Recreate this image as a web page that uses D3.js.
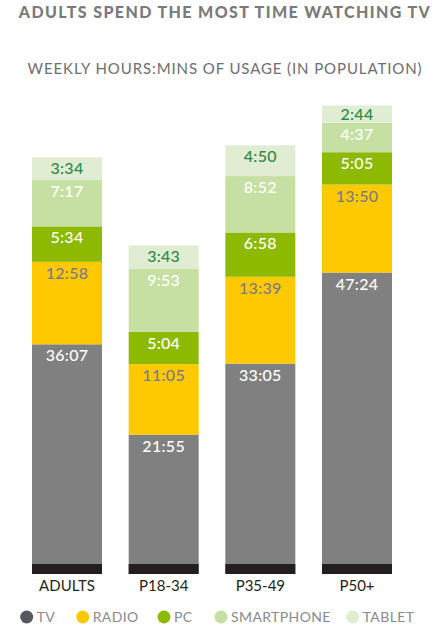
<!DOCTYPE html>
<html>
<head>
<meta charset="utf-8">
<script src="https://cdn.jsdelivr.net/npm/d3@7"></script>
<style>
  html, body { margin: 0; padding: 0; background: #fff; }
  svg { display: block; }
</style>
</head>
<body>
<svg id="chart" width="447" height="630"></svg>
<script>
const categories = ["ADULTS", "P18-34", "P35-49", "P50+"];
const seriesNames = ["TV", "RADIO", "PC", "SMARTPHONE", "TABLET"];
const tv = ["36:07", "21:55", "33:05", "47:24"];
const radio = ["12:58", "11:05", "13:39", "13:50"];
const pc = ["5:34", "5:04", "6:58", "5:05"];
const smartphone = ["7:17", "9:53", "8:52", "4:37"];
const tablet = ["3:34", "3:43", "4:50", "2:44"];

const title = "ADULTS SPEND THE MOST TIME WATCHING TV";
const subtitle = "WEEKLY HOURS:MINS OF USAGE (IN POPULATION)";

const colors = {
  TV: "#808080", RADIO: "#FFC900", PC: "#8DBA00", SMARTPHONE: "#C6DFA2", TABLET: "#E0EDD3"
};
const legendColors = {
  TV: "#55585e", RADIO: "#FFC900", PC: "#8DBA00", SMARTPHONE: "#C6DFA2", TABLET: "#E0EDD3"
};
const labelColors = {
  TV: "#ffffff", RADIO: "#7d7a86", PC: "#ffffff", SMARTPHONE: "#ffffff", TABLET: "#2b8a45"
};

const toMin = s => { const [h, m] = s.split(":").map(Number); return h * 60 + m; };
const raw = { TV: tv, RADIO: radio, PC: pc, SMARTPHONE: smartphone, TABLET: tablet };

const table = categories.map((c, i) => {
  const row = { cat: c };
  seriesNames.forEach(s => { row[s] = toMin(raw[s][i]); row[s + "_label"] = raw[s][i]; });
  return row;
});

const svg = d3.select("#chart");
const font = "Lato, 'Open Sans', sans-serif";

svg.append("text")
  .attr("x", 225).attr("y", 18)
  .attr("text-anchor", "middle")
  .attr("font-family", font).attr("font-weight", 900)
  .attr("font-size", 16).attr("fill", "#7a7a7a")
  .attr("letter-spacing", 1.4)
  .text(title);

svg.append("text")
  .attr("x", 225).attr("y", 74)
  .attr("text-anchor", "middle")
  .attr("font-family", font).attr("font-weight", 400)
  .attr("font-size", 15).attr("fill", "#6d6e71")
  .attr("letter-spacing", 0.9)
  .text(subtitle);

const x = d3.scaleBand().domain(categories).range([32, 392]).paddingInner(0.276).paddingOuter(0);
const base = 574;
const pxPerHour = 6.36;
const y = d3.scaleLinear().domain([0, 75 * 60]).range([base, base - 75 * pxPerHour]);

const stack = d3.stack().keys(seriesNames);
const layers = stack(table);

const g = svg.append("g");
layers.forEach(layer => {
  const key = layer.key;
  g.append("g").selectAll("rect").data(layer).join("rect")
    .attr("x", d => x(d.data.cat))
    .attr("width", x.bandwidth())
    .attr("y", d => y(d[1]))
    .attr("height", d => y(d[0]) - y(d[1]))
    .attr("fill", colors[key]);
});

// dark base band
g.selectAll("rect.base").data(categories).join("rect")
  .attr("class", "base")
  .attr("x", d => x(d))
  .attr("width", x.bandwidth())
  .attr("y", base - 10)
  .attr("height", 10)
  .attr("fill", "#231f20");

layers.forEach(layer => {
  const key = layer.key;
  g.append("g").selectAll("text").data(layer).join("text")
    .attr("x", d => x(d.data.cat) + x.bandwidth() / 2)
    .attr("y", d => {
      const top = y(d[1]), bot = y(d[0]);
      return Math.min(top + 17, (top + bot) / 2 + 6);
    })
    .attr("text-anchor", "middle")
    .attr("font-family", font).attr("font-weight", 500)
    .attr("font-size", 16)
    .attr("letter-spacing", 0.3)
    .attr("fill", labelColors[key])
    .text(d => d.data[key + "_label"]);
});

// category axis labels
const xAxis = d3.axisBottom(x).tickSize(0).tickPadding(0);
const ax = svg.append("g").attr("transform", `translate(0,${base})`).call(xAxis);
ax.select(".domain").remove();
ax.selectAll("text")
  .attr("y", 17)
  .attr("dy", 0)
  .attr("font-family", font)
  .attr("font-size", 15)
  .attr("fill", "#231f20");

// legend
const legendX = [26.7, 82.7, 164, 221, 352.7];
const lg = svg.append("g");
seriesNames.forEach((s, i) => {
  lg.append("circle").attr("cx", legendX[i]).attr("cy", 617).attr("r", 6.5).attr("fill", legendColors[s]);
  lg.append("text").attr("x", legendX[i] + 10).attr("y", 622.3)
    .attr("font-family", font).attr("font-size", 14).attr("fill", "#8a8a8a")
    .attr("letter-spacing", 0.4)
    .text(s);
});
</script>
</body>
</html>
